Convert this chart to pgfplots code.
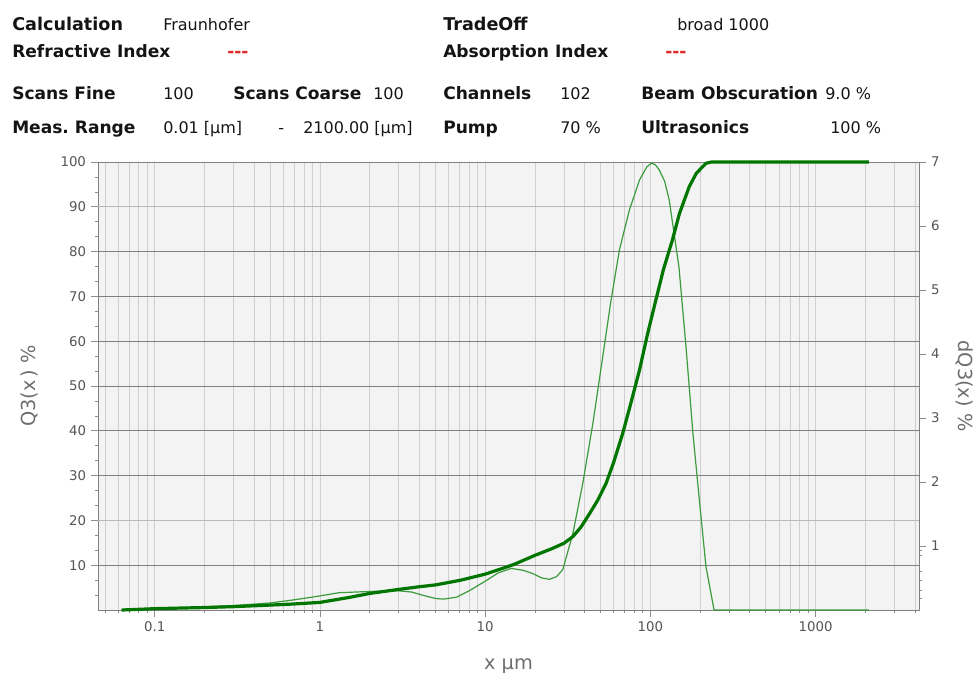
\documentclass[border=0pt]{standalone}
\usepackage{fontspec}
\setmainfont{DejaVu Sans}
\usepackage{pgfplots}
\usepackage{pgfplotstable}
\pgfplotsset{compat=1.18}
\frenchspacing

\definecolor{cumgreen}{RGB}{0,118,0}
\definecolor{densgreen}{RGB}{60,155,60}
\definecolor{plotbg}{RGB}{243,243,243}
\definecolor{gridminor}{RGB}{208,208,208}
\definecolor{griddark}{RGB}{128,128,128}
\definecolor{gridlight}{RGB}{185,185,185}
\definecolor{tickgray}{RGB}{140,140,140}
\definecolor{ticktext}{RGB}{85,85,85}
\definecolor{labeltext}{RGB}{110,110,110}
\definecolor{headtext}{RGB}{20,20,20}
\definecolor{headred}{RGB}{225,40,40}

\newcommand\hbig{\fontsize{13.2}{15}\selectfont\bfseries}
\newcommand\hb{\fontsize{12.8}{15}\selectfont\bfseries}
\newcommand\hr{\fontsize{12}{14}\selectfont}
\newcommand\ticksize{\fontsize{10}{12}\selectfont}
\newcommand\labsize{\fontsize{14.5}{16}\selectfont}

% cumulative distribution Q3 (%)
\pgfplotstableread{
x Q
0.063 0
0.08 0.15
0.1 0.3
0.15 0.45
0.2 0.55
0.3 0.75
0.5 1.1
0.7 1.35
1 1.7
1.5 2.8
2 3.7
3 4.6
4 5.2
5 5.6
7 6.6
10 8.0
13 9.4
15 10.2
20 12.2
25 13.6
30 14.9
34 16.4
38 18.5
43 21.6
48 24.5
54 28.3
60 33
68 39.4
76 46
86 53.6
96 61.5
108 69.2
120 76
136 82.6
150 88.5
172 94.5
190 97.5
217 99.7
234 100
2100 100
}\cumdata

% density distribution dQ3 (%)
\pgfplotstableread{
x q
0.063 0
0.1 0.02
0.2 0.05
0.3 0.07
0.5 0.11
0.7 0.16
1 0.22
1.3 0.27
2 0.29
3 0.30
3.6 0.28
4.2 0.23
5 0.18
5.6 0.17
6.7 0.2
8 0.3
10 0.45
12 0.58
14.4 0.65
17 0.62
19.4 0.57
22 0.5
24.5 0.48
27 0.52
29.5 0.63
34 1.2
39 1.98
44.9 2.92
51.5 3.96
57.8 4.84
65 5.63
74.7 6.25
86 6.72
95 6.92
101 6.98
107 6.96
113 6.88
122 6.7
130 6.41
149 5.36
165 4.06
181 2.76
198 1.72
217 0.68
243 0
2100 0
}\densdata

\begin{document}
\begin{tikzpicture}
\useasboundingbox (0,0) rectangle (734.25pt,-506.25pt);

% header block
\begin{scope}[x=0.75pt, y=-0.75pt, every node/.style={anchor=base west, inner sep=0pt, text=headtext}]
  \node[font=\hbig] at (12,30) {Calculation};
  \node[font=\hr]   at (163,30) {Fraunhofer};
  \node[font=\hbig] at (443,30) {TradeOff};
  \node[font=\hr]   at (677,30) {broad 1000};

  \node[font=\hb] at (12,57) {Refractive Index};
  \node[font=\hb, text=headred] at (227,57) {-\kern0pt-\kern0pt-};
  \node[font=\hb] at (443,57) {Absorption Index};
  \node[font=\hb, text=headred] at (665,57) {-\kern0pt-\kern0pt-};

  \node[font=\hb] at (12,99) {Scans Fine};
  \node[font=\hr] at (163,99) {100};
  \node[font=\hb] at (233,99) {Scans Coarse};
  \node[font=\hr] at (373,99) {100};
  \node[font=\hb] at (443,99) {Channels};
  \node[font=\hr] at (560,99) {102};
  \node[font=\hb] at (641,99) {Beam Obscuration};
  \node[font=\hr] at (825,99) {9.0 \%};

  \node[font=\hb] at (12,133) {Meas. Range};
  \node[font=\hr] at (163,133) {0.01 [µm]};
  \node[font=\hr] at (278,133) {-};
  \node[font=\hr] at (303,133) {2100.00 [µm]};
  \node[font=\hb] at (443,133) {Pump};
  \node[font=\hr] at (560,133) {70 \%};
  \node[font=\hb] at (641,133) {Ultrasonics};
  \node[font=\hr] at (830,133) {100 \%};
\end{scope}

% left axis: frame, grid and Q3 scale
\begin{axis}[
  at={(73.5pt,-457.5pt)}, anchor=south west,
  scale only axis, width=615.75pt, height=336pt,
  xmode=log, xmin=0.0453, xmax=4230,
  ymin=0, ymax=100,
  tick align=outside,
  major tick length=5.5pt, minor tick length=2.5pt,
  tick style={tickgray, line width=0.5pt},
  axis line style={griddark, line width=0.6pt},
  tick label style={font=\ticksize, text=ticktext},
  /pgf/number format/assume math mode=true,
  axis background/.style={fill=plotbg},
  xtick={0.1,1,10,100,1000},
  xticklabels={0.1,1,10,100,1000},
  minor xtick={0.05,0.06,0.07,0.08,0.09,0.1,0.2,0.3,0.4,0.5,0.6,0.7,0.8,0.9,1,2,3,4,5,6,7,8,9,10,20,30,40,50,60,70,80,90,100,200,300,400,500,600,700,800,900,1000,2000,3000,4000},
  xminorgrids, minor grid style={gridminor, line width=0.5pt},
  ytick={10,30,40,50,60,70,80,100},
  extra y ticks={20,90},
  extra y tick style={grid=major, major grid style={gridlight, line width=0.7pt}},
  minor ytick={3.333,6.667,13.333,16.667,23.333,26.667,33.333,36.667,43.333,46.667,53.333,56.667,63.333,66.667,73.333,76.667,83.333,86.667,93.333,96.667},
  ymajorgrids, major grid style={griddark, line width=0.7pt},
  xtick pos=bottom, ytick pos=left,
  ylabel={Q3(x\,) \%},
  ylabel style={font=\labsize, text=labeltext, at={(axis description cs:-0.084,0.5)}, anchor=center},
  xlabel={x µm},
  xlabel style={font=\labsize, text=labeltext, at={(axis description cs:0.5,-0.1330)}, anchor=base},
]
\end{axis}

% right axis: density dQ3
\begin{axis}[
  at={(73.5pt,-457.5pt)}, anchor=south west,
  scale only axis, width=615.75pt, height=336pt,
  xmode=log, xmin=0.0453, xmax=4230,
  ymin=0, ymax=7,
  axis x line=none, axis y line*=right,
  tick align=outside,
  major tick length=5.5pt, minor tick length=2.5pt,
  tick style={tickgray, line width=0.5pt},
  axis line style={griddark, line width=0.6pt},
  tick label style={font=\ticksize, text=ticktext},
  /pgf/number format/assume math mode=true,
  ytick={1,2,3,4,5,6,7},
  minor ytick={0.19,0.31,0.47,0.6,0.86,0.94},
  ylabel={dQ3(x) \%},
  ylabel style={font=\labsize, text=labeltext, rotate=180, at={(axis description cs:1.056,0.5)}, anchor=center},
  clip=false,
]
\addplot[densgreen, line width=0.9pt] table[x=x, y=q] {\densdata};
\end{axis}

% cumulative curve on the Q3 scale
\begin{axis}[
  at={(73.5pt,-457.5pt)}, anchor=south west,
  scale only axis, width=615.75pt, height=336pt,
  xmode=log, xmin=0.0453, xmax=4230,
  ymin=0, ymax=100,
  hide axis, clip=false,
]
\addplot[cumgreen, line width=2.4pt, line join=round] table[x=x, y=Q] {\cumdata};
\end{axis}
\end{tikzpicture}
\end{document}
